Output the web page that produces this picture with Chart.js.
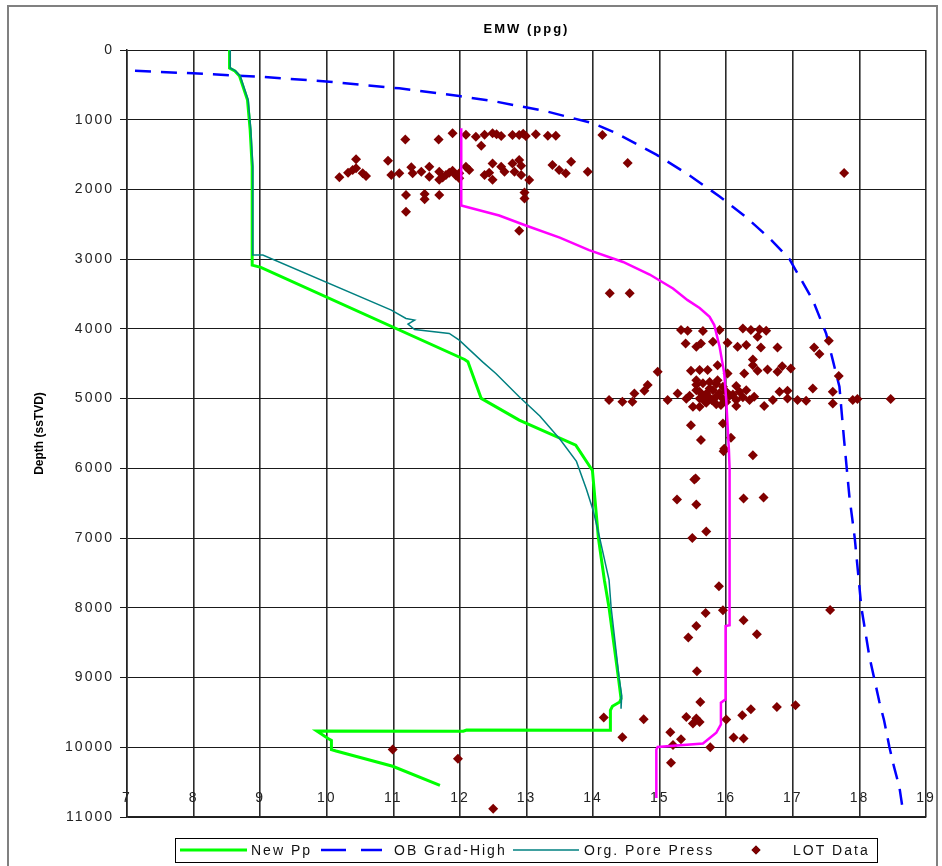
<!DOCTYPE html>
<html>
<head>
<meta charset="utf-8">
<title>EMW (ppg)</title>
<script src="https://cdn.jsdelivr.net/npm/chart.js@4.4.0/dist/chart.umd.min.js"></script>
<style>
  body { margin: 0; background: #fff; }
  canvas { display: block; }
</style>
</head>
<body>
<canvas id="emw-chart" width="942" height="866"></canvas>
<script>
// axis ticks
var emwTicks = [7, 8, 9, 10, 11, 12, 13, 14, 15, 16, 17, 18, 19];
var depthTicks = [0, 1000, 2000, 3000, 4000, 5000, 6000, 7000, 8000, 9000, 10000, 11000];

// New Pp
var newPpEmw = [8.54, 8.54, 8.62, 8.69, 8.76, 8.81, 8.85, 8.88, 8.88, 8.88, 9.01, 12.07, 12.12, 12.32, 12.89, 13.74, 13.99, 14.08, 14.17, 14.24, 14.38, 14.42, 14.40, 14.29, 14.26, 14.26, 12.10, 12.05, 9.85, 10.02, 10.07, 10.07, 10.14, 10.99, 11.70];
var newPpDepth = [0, 258, 300, 373, 574, 717, 1148, 1674, 2500, 3085, 3118, 4438, 4470, 4997, 5308, 5667, 6030, 7000, 7604, 8000, 9000, 9300, 9350, 9412, 9469, 9756, 9752, 9770, 9766, 9875, 9900, 10033, 10053, 10272, 10545];

// OB Grad-High
var obEmw = [7.12, 7.99, 8.99, 10.04, 11.09, 11.99, 12.54, 13.30, 14.00, 14.35, 14.95, 15.45, 15.90, 16.30, 16.65, 16.95, 17.30, 17.50, 17.60, 17.70, 17.77, 17.85, 17.93, 18.03, 18.15, 18.30, 18.37, 18.45, 18.52, 18.60, 18.66];
var obDepth = [297, 335, 383, 455, 550, 660, 740, 880, 1052, 1195, 1500, 1800, 2100, 2400, 2700, 3000, 3587, 4065, 4448, 4830, 5595, 6408, 7000, 8000, 8700, 9350, 9612, 9995, 10282, 10569, 10950];

// Org. Pore Press
var orgPpEmw = [8.55, 8.55, 8.63, 8.70, 8.77, 8.82, 8.86, 8.89, 8.89, 9.04, 10.97, 11.19, 11.32, 11.22, 11.32, 11.84, 11.99, 12.34, 12.54, 12.89, 13.20, 13.50, 13.75, 13.90, 14.00, 14.10, 14.24, 14.27, 14.39, 14.43, 14.42];
var orgPpDepth = [0, 258, 300, 373, 574, 717, 1148, 1674, 2941, 2941, 3730, 3850, 3874, 3932, 4008, 4065, 4161, 4472, 4639, 4974, 5250, 5580, 5900, 6300, 6600, 7000, 7604, 7987, 8996, 9259, 9447];

// fracture trend (not in legend)
var fracEmw = [12.02, 12.02, 12.59, 12.99, 13.50, 13.94, 14.45, 14.85, 15.20, 15.42, 15.60, 15.75, 15.82, 15.90, 15.97, 16.00, 16.04, 16.05, 16.05, 15.99, 15.99, 15.92, 15.92, 15.85, 15.65, 14.97, 14.95, 14.95];
var fracDepth = [1124, 2230, 2374, 2517, 2690, 2870, 3040, 3220, 3420, 3587, 3700, 3826, 3945, 4256, 4638, 5021, 5739, 6000, 8250, 8260, 9312, 9361, 9672, 9792, 9945, 9995, 10033, 10727];

// LOT Data
var lotEmw = [
  11.18, 11.68, 11.89, 12.09, 12.24, 12.37, 12.49, 12.55, 12.62, 12.32, 12.79, 12.89, 12.95, 12.99, 13.14, 13.32, 13.44, 14.14,
  10.44, 10.92, 10.19, 10.32, 10.39, 10.44, 10.54, 10.59, 10.97, 11.09, 11.27, 11.29, 11.42, 11.54, 11.54, 11.69, 11.69, 11.74,
  11.79, 11.84, 11.89, 11.94, 11.99, 11.99, 12.09, 12.14, 12.37, 12.44, 12.49, 12.49, 12.62, 12.67, 12.79, 12.82, 12.89, 12.92,
  12.92, 13.04, 12.97, 12.97, 12.89, 13.39, 13.49, 13.59, 13.67, 13.92, 14.52, 17.77, 11.19, 11.47, 11.47, 11.69, 11.19,
  14.25, 14.55,
  15.32, 15.42, 15.65, 15.90, 16.25, 16.37, 16.50, 16.60, 16.47, 15.39, 15.55, 15.62, 15.80, 16.02, 16.17, 16.30, 16.52, 16.77,
  17.32, 17.40, 17.54, 16.40, 16.40, 14.97, 15.47, 15.60, 15.72, 15.87, 16.02, 16.27, 16.47, 16.62, 16.77, 16.84, 16.97, 17.69,
  15.55, 15.87, 14.82, 14.77, 14.62, 17.30, 17.60, 15.27, 15.55, 15.75, 16.15, 16.30, 16.80, 16.92, 14.24, 14.44, 14.59, 15.12,
  15.60, 15.60, 15.50, 15.80, 16.15, 16.15, 16.35, 16.42, 16.57, 16.70, 16.92, 17.07, 17.20, 17.60, 17.90, 17.97, 18.47,
  15.55, 15.65, 15.75, 15.85, 15.95, 15.60, 15.70, 15.80, 15.90, 16.00, 15.65, 15.75, 15.85, 15.95, 16.05, 16.10, 15.70, 15.85,
  16.00, 15.40, 15.45, 16.20, 16.25, 15.68, 15.78, 15.92,
  15.47, 15.95, 15.62, 16.07, 15.96, 15.97, 16.40, 15.54, 15.26, 16.26, 16.56, 15.52, 15.55, 15.49, 15.70,
  15.89, 15.69, 15.95, 15.55, 16.26, 15.43, 16.46, 15.56, 17.56, 15.61,
  14.16, 14.76, 15.40, 15.55, 15.60, 15.50, 16.00, 16.24, 16.37, 16.76, 17.04, 14.44, 15.16, 15.32, 15.20, 15.76, 16.11, 16.26,
  15.17, 10.99, 11.97, 12.50
];
var lotDepth = [
  1282, 1282, 1195, 1215, 1244, 1215, 1195, 1210, 1234, 1374, 1220, 1220, 1200, 1234, 1210, 1230, 1230, 1220,
  1568, 1588, 1826, 1760, 1722, 1697, 1769, 1808, 1794, 1769, 1683, 1769, 1747, 1674, 1818, 1747, 1862, 1830,
  1794, 1760, 1732, 1800, 1769, 1840, 1674, 1722, 1794, 1760, 1628, 1862, 1674, 1747, 1628, 1747, 1578, 1660,
  1794, 1865, 2043, 2129, 2592, 1650, 1722, 1769, 1603, 1747, 1620, 1765, 2080, 2066, 2142, 2080, 2320,
  3487, 3487,
  4017, 4027, 4031, 4017, 3993, 4017, 4008, 4027, 4114, 4208, 4256, 4208, 4184, 4198, 4256, 4232, 4266, 4266,
  4266, 4361, 4170, 4438, 4520, 4616, 4601, 4591, 4591, 4520, 4639, 4639, 4601, 4582, 4616, 4534, 4567, 4677,
  4735, 4735, 4806, 4888, 4926, 4854, 4903, 4926, 4878, 4854, 4820, 4878, 4903, 4888, 5021, 5046, 5046, 5021,
  4998, 5118, 5118, 5021, 5021, 5107, 5021, 4974, 5107, 5021, 4998, 5021, 5031, 5069, 5021, 5007, 5007,
  4800, 4780, 4760, 4790, 4830, 4900, 4930, 4880, 4920, 4900, 4960, 4990, 4970, 5000, 4960, 4940, 5060, 5080,
  5050, 5000, 4960, 4900, 4980, 5040, 5020, 5090,
  5380, 5356, 5595, 5562, 5753, 5717, 5811, 6145, 6447, 6433, 6418, 6160, 6520, 7000, 6905,
  7690, 8074, 8034, 8260, 8178, 8427, 8379, 8910, 8030, 9350,
  9574, 9598, 9565, 9588, 9637, 9660, 9603, 9541, 9455, 9422, 9397, 9857, 9785, 9885, 9967, 10000, 9861, 9875,
  10223, 10033, 10163, 10880
];

function pairs(xs, ys) {
  return xs.map(function(x, i) { return { x: x, y: ys[i] }; });
}

var tickFont = { family: '"Liberation Sans", Arial, sans-serif', size: 14 };

// outer frame, rotated depth title and the legend strip
var chartFrame = {
  id: 'chartFrame',
  beforeDraw: function(chart) {
    chart.ctx.letterSpacing = '2px';
  },
  afterDraw: function(chart) {
    var ctx = chart.ctx;
    var area = chart.chartArea;
    var sets = chart.data.datasets;

    ctx.save();
    ctx.strokeStyle = '#808080';
    ctx.lineWidth = 2;
    ctx.strokeRect(8, 6, 929, 880);

    ctx.letterSpacing = '0px';
    ctx.font = 'bold 12px "Liberation Sans", Arial, sans-serif';
    ctx.fillStyle = '#000';
    ctx.textAlign = 'center';
    ctx.textBaseline = 'middle';
    ctx.translate(40, (area.top + area.bottom) / 2);
    ctx.rotate(-Math.PI / 2);
    ctx.fillText('Depth (ssTVD)', 0, 0);
    ctx.restore();

    // legend
    var box = { left: 175, top: 838, width: 702, height: 24 };
    var slots = [
      { index: 0, sample: 180, len: 67, text: 251 },
      { index: 1, sample: 321, len: 61, text: 394 },
      { index: 2, sample: 513, len: 66, text: 584 },
      { index: 3, sample: 756, len: 0, text: 793 }
    ];
    var cy = box.top + box.height / 2;
    ctx.save();
    ctx.fillStyle = '#fff';
    ctx.fillRect(box.left, box.top, box.width, box.height);
    ctx.strokeStyle = '#000';
    ctx.lineWidth = 1;
    ctx.strokeRect(box.left + 0.5, box.top + 0.5, box.width, box.height);
    ctx.font = '14px "Liberation Sans", Arial, sans-serif';
    ctx.letterSpacing = '2px';
    ctx.textAlign = 'left';
    ctx.textBaseline = 'middle';
    slots.forEach(function(s) {
      var ds = sets[s.index];
      if (ds.showLine) {
        ctx.save();
        ctx.strokeStyle = ds.borderColor;
        ctx.lineWidth = ds.borderWidth;
        ctx.setLineDash(ds.borderDash ? [25, 15] : []);
        ctx.beginPath();
        ctx.moveTo(s.sample, cy);
        ctx.lineTo(s.sample + s.len, cy);
        ctx.stroke();
        ctx.restore();
      } else {
        Chart.helpers.drawPoint(ctx, { pointStyle: 'rectRot', radius: 4.5, borderWidth: 0 }, s.sample, cy);
        ctx.fillStyle = ds.backgroundColor;
        ctx.fill();
      }
      ctx.fillStyle = '#111';
      ctx.fillText(ds.label, s.text, cy + 1);
    });
    ctx.restore();
  }
};

var ctx = document.getElementById('emw-chart');
var emwChart = new Chart(ctx, {
  type: 'scatter',
  data: {
    datasets: [
      {
        label: 'New Pp',
        data: pairs(newPpEmw, newPpDepth),
        showLine: true,
        borderColor: '#00ff00',
        backgroundColor: '#00ff00',
        borderWidth: 3,
        pointRadius: 0,
        order: 2
      },
      {
        label: 'OB Grad-High',
        data: pairs(obEmw, obDepth),
        showLine: true,
        borderColor: '#0000ff',
        backgroundColor: '#0000ff',
        borderWidth: 2.5,
        borderDash: [16, 10],
        pointRadius: 0,
        order: 4
      },
      {
        label: 'Org. Pore Press',
        data: pairs(orgPpEmw, orgPpDepth),
        showLine: true,
        borderColor: '#008080',
        backgroundColor: '#008080',
        borderWidth: 1.5,
        pointRadius: 0,
        order: 1
      },
      {
        label: 'LOT Data',
        data: pairs(lotEmw, lotDepth),
        showLine: false,
        pointStyle: 'rectRot',
        pointRadius: 5,
        pointBorderWidth: 0,
        backgroundColor: '#800000',
        borderColor: '#800000',
        order: 3
      },
      {
        label: 'Frac Grad',
        data: pairs(fracEmw, fracDepth),
        showLine: true,
        borderColor: '#ff00ff',
        backgroundColor: '#ff00ff',
        borderWidth: 2.5,
        pointRadius: 0,
        order: 0
      }
    ]
  },
  options: {
    responsive: false,
    animation: false,
    events: [],
    layout: { padding: { left: 0, right: 16, top: 0, bottom: 49 } },
    elements: { line: { tension: 0 } },
    plugins: {
      legend: { display: false },
      tooltip: { enabled: false },
      title: {
        display: true,
        text: 'EMW (ppg)',
        fullSize: false,
        color: '#000',
        font: { family: '"Liberation Sans", Arial, sans-serif', size: 13, weight: 'bold' },
        padding: { top: 22, bottom: 12.4 }
      }
    },
    scales: {
      x: {
        type: 'linear',
        position: 'bottom',
        min: 7,
        max: 19,
        afterBuildTicks: function(scale) {
          scale.ticks = emwTicks.map(function(v) { return { value: v }; });
        },
        afterFit: function(scale) {
          scale.height = 0;
          scale.paddingLeft = 0;
          scale.paddingRight = 0;
        },
        ticks: {
          mirror: true,
          padding: 10.6,
          autoSkip: false,
          maxRotation: 0,
          color: '#222',
          font: tickFont,
          callback: function(value) { return String(value); }
        },
        grid: { color: '#2a2a2a', lineWidth: 1.6, drawTicks: false },
        border: { color: '#222', width: 1.5 }
      },
      y: {
        type: 'linear',
        reverse: true,
        min: 0,
        max: 11000,
        afterBuildTicks: function(scale) {
          scale.ticks = depthTicks.map(function(v) { return { value: v }; });
        },
        afterFit: function(scale) {
          scale.width = 127;
          scale.paddingTop = 0;
          scale.paddingBottom = 0;
        },
        ticks: {
          padding: 6,
          autoSkip: false,
          color: '#222',
          font: tickFont,
          callback: function(value) { return String(value); }
        },
        grid: { color: '#1a1a1a', lineWidth: 1, drawTicks: true, tickLength: 7 },
        border: { color: '#222', width: 1.5 }
      }
    }
  },
  plugins: [chartFrame]
});
</script>
</body>
</html>
